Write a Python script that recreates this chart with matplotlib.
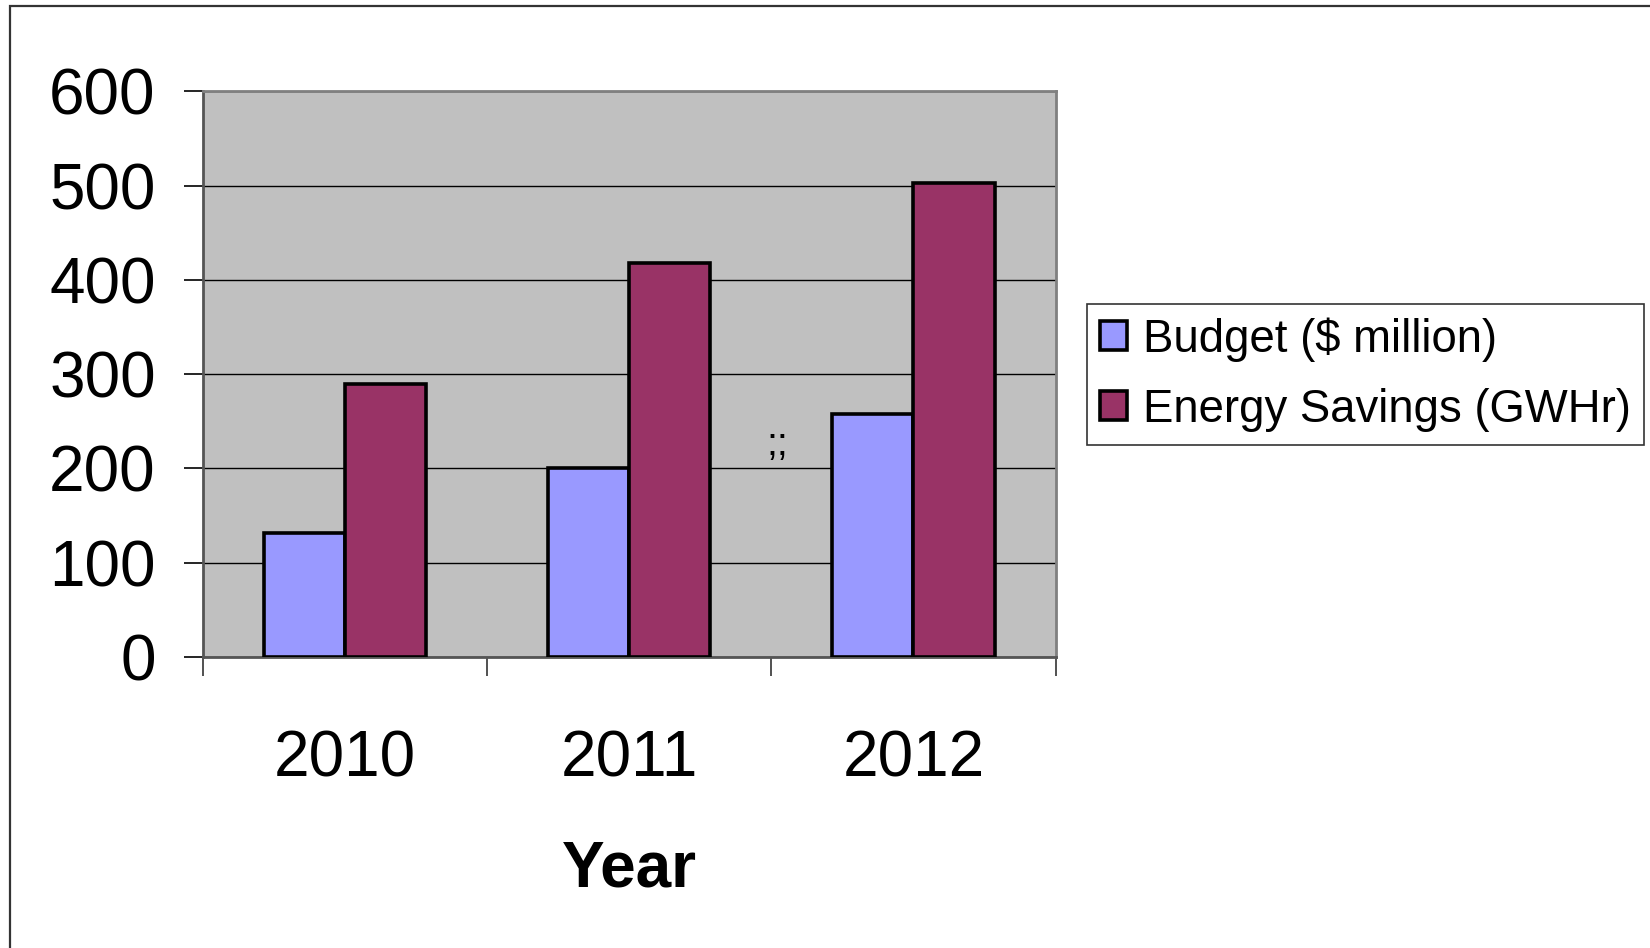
import matplotlib.pyplot as plt
import numpy as np
from matplotlib.patches import Rectangle

years = ['2010', '2011', '2012']
budget = [132, 200, 258]
energy = [290, 418, 503]
series_labels = ['Budget ($ million)', 'Energy Savings (GWHr)']
y_ticks = [0, 100, 200, 300, 400, 500, 600]

plt.rcParams['font.family'] = ['Liberation Sans', 'DejaVu Sans']

fig = plt.figure(figsize=(16.5, 9.48), dpi=100)
ax = fig.add_axes([0.123, 0.307, 0.5167, 0.5965])

# Outer frame (only left and top edges visible)
fig.patches.append(Rectangle((10 / 1650, -0.1), 1.2, 1 - 6 / 948 + 0.1,
                             transform=fig.transFigure, fill=False,
                             edgecolor='#333333', linewidth=1.6, zorder=0))

x = np.arange(len(years))
w = 1 / 3.5
ax.set_facecolor('#C0C0C0')
ax.bar(x - w / 2, budget, w, color='#9999FF', edgecolor='black', linewidth=2.6,
       label=series_labels[0], zorder=3)
ax.bar(x + w / 2, energy, w, color='#993366', edgecolor='black', linewidth=2.6,
       label=series_labels[1], zorder=3)

ax.set_xlim(-0.5, 2.5)
ax.set_ylim(0, 600)
ax.set_yticks(y_ticks)
ax.set_yticklabels([str(v) for v in y_ticks])
ax.yaxis.grid(True, color='black', linewidth=1.0, zorder=1)
ax.set_axisbelow(True)

ax.set_xticks(x)
ax.set_xticklabels(years)
ax.set_xticks(np.arange(len(years) + 1) - 0.5, minor=True)
ax.tick_params(axis='x', which='major', length=0, pad=52, labelsize=46)
ax.tick_params(axis='x', which='minor', length=14, width=1.2, direction='out', color='#333333')
ax.tick_params(axis='y', length=14, width=1.2, pad=20, labelsize=46, color='black')

for s in ['top', 'right']:
    ax.spines[s].set_color('#808080')
    ax.spines[s].set_linewidth(2)
ax.spines['left'].set_color('#555555')
ax.spines['left'].set_linewidth(2)
ax.spines['bottom'].set_color('#555555')
ax.spines['bottom'].set_linewidth(2)

ax.set_xlabel('Year', fontsize=46, fontweight='bold', labelpad=36)

ax.text(1.52, 225, ';;', fontsize=28, ha='center', va='center', zorder=4)

leg = fig.legend(loc='upper left', bbox_to_anchor=(0.659, 0.679), borderaxespad=0,
                 fontsize=32.8, frameon=True, fancybox=False, edgecolor='#333333',
                 framealpha=1, handlelength=0.6, handleheight=0.6,
                 handletextpad=0.35, labelspacing=0.58, borderpad=0.28)
leg.get_frame().set_linewidth(1.2)

fig.savefig('out.png', dpi=100)
